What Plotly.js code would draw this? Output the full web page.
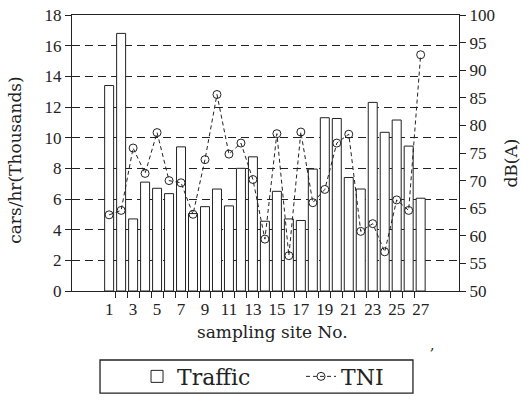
<!DOCTYPE html>
<html>
<head>
<meta charset="utf-8">
<script src="https://cdn.plot.ly/plotly-3.0.1.min.js"></script>
<style>
  html, body { margin: 0; padding: 0; background: #fff; }
  #chart { width: 523px; height: 409px; }
</style>
</head>
<body>
<div id="chart"></div>
<script>
// ---- data ----
const sites = [1,2,3,4,5,6,7,8,9,10,11,12,13,14,15,16,17,18,19,20,21,22,23,24,25,26,27];
const traffic = [13.4,16.8,4.7,7.1,6.7,6.35,9.4,5.05,5.5,6.65,5.55,8.0,8.75,4.55,6.5,4.7,4.6,7.95,11.3,11.25,7.4,6.65,12.3,10.35,11.15,9.45,6.05];
const tni = [63.8,64.6,75.9,71.3,78.7,70.0,69.6,63.9,73.8,85.6,74.8,76.8,70.2,59.4,78.5,56.4,78.8,66.0,68.4,76.8,78.4,60.8,62.2,57.1,66.5,64.6,92.8];
const xTickVals = [1,3,5,7,9,11,13,15,17,19,21,23,25,27];
const xMinorVals = [1.5,2.5,3.5,4.5,5.5,6.5,7.5,8.5,9.5,10.5,11.5,12.5,13.5,14.5,15.5,16.5,17.5,18.5,19.5,20.5,21.5,22.5,23.5,24.5,25.5,26.5];
const leftTicks = [0,2,4,6,8,10,12,14,16,18];
const rightTicks = [50,55,60,65,70,75,80,85,90,95,100];

const tickFont = {family: 'Liberation Serif, DejaVu Serif, serif', size: 17, color: '#222'};
const titleFont = {family: 'DejaVu Serif, serif', size: 17, color: '#222'};

const traces = [
  {
    type: 'bar', name: 'Traffic', x: sites, y: traffic,
    width: 0.75,
    marker: {color: '#ffffff', line: {color: '#222', width: 1}},
    yaxis: 'y'
  },
  {
    type: 'scatter', mode: 'lines+markers', name: 'TNI', x: sites, y: tni,
    yaxis: 'y2',
    line: {color: '#222', width: 1, dash: '4px,3px'},
    marker: {symbol: 'circle-open', size: 8, color: '#222', line: {width: 1, color: '#222'}}
  }
];

const layout = {
  width: 523, height: 409,
  margin: {l: 72, r: 64, t: 15, b: 110},
  paper_bgcolor: '#fff', plot_bgcolor: '#fff',
  showlegend: true,
  bargap: 0.25,
  xaxis: {
    range: [-2.1, 30.2],
    tickmode: 'array', tickvals: xTickVals,
    ticks: 'outside', ticklen: 3, tickcolor: 'rgba(0,0,0,0)',
    minor: {tickmode: 'array', tickvals: xMinorVals, ticks: 'outside', ticklen: 6, tickcolor: '#222', tickwidth: 1, showgrid: false},
    showline: true, linecolor: '#222', linewidth: 1, mirror: true,
    showgrid: false, zeroline: false,
    tickfont: tickFont
  },
  yaxis: {
    range: [0, 18],
    tickmode: 'array', tickvals: leftTicks,
    ticks: 'outside', ticklen: 6, tickcolor: '#222',
    showline: true, linecolor: '#222', linewidth: 1,
    showgrid: true, gridcolor: '#222', gridwidth: 1, griddash: '8px,5px',
    zeroline: false,
    tickfont: tickFont
  },
  yaxis2: {
    range: [50, 100], overlaying: 'y', side: 'right',
    tickmode: 'array', tickvals: rightTicks,
    ticks: 'outside', ticklen: 6, tickcolor: '#222',
    showline: true, linecolor: '#222', linewidth: 1,
    showgrid: false, zeroline: false,
    tickfont: tickFont
  },
  legend: {
    orientation: 'h', x: 0.168, xanchor: 'left', y: -0.31, yanchor: 'middle',
    font: {family: 'DejaVu Serif, serif', size: 22, color: '#222'},
    bgcolor: 'rgba(0,0,0,0)', borderwidth: 0,
    entrywidth: 119, entrywidthmode: 'pixels'
  },
  shapes: [
    {type: 'rect', xref: 'paper', yref: 'paper', x0: 0.0724, x1: 0.881, y0: -0.370, y1: -0.250,
     line: {color: '#222', width: 1.3}, fillcolor: 'rgba(0,0,0,0)'}
  ],
  annotations: [
    {text: 'cars/hr(Thousands)', xref: 'paper', yref: 'paper', x: -0.147, y: 0.472,
     textangle: -90, showarrow: false, font: titleFont, xanchor: 'center', yanchor: 'middle'},
    {text: 'dB(A)', xref: 'paper', yref: 'paper', x: 1.134, y: 0.465,
     textangle: -90, showarrow: false, font: titleFont, xanchor: 'center', yanchor: 'middle'},
    {text: 'sampling site No.', xref: 'paper', yref: 'paper', x: 0.517, y: -0.147,
     showarrow: false, font: titleFont, xanchor: 'center', yanchor: 'middle'},
    {text: ',', xref: 'paper', yref: 'paper', x: 0.930, y: -0.194,
     showarrow: false, font: {family: 'DejaVu Serif, serif', size: 14, color: '#222'}, xanchor: 'center', yanchor: 'middle'}
  ]
};

Plotly.newPlot('chart', traces, layout, {displayModeBar: false, staticPlot: true});
</script>
</body>
</html>
